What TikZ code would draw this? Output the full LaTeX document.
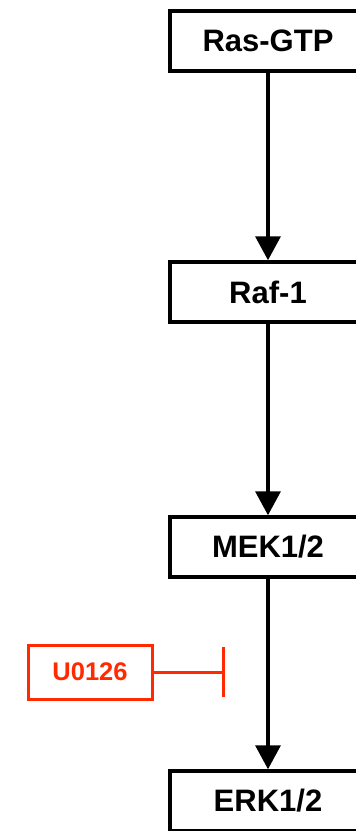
\documentclass[tikz,border=0pt]{standalone}
\usepackage{fontspec}
\setmainfont{Liberation Sans}
\usetikzlibrary{arrows.meta}
\definecolor{inhred}{HTML}{FF2A00}
\begin{document}
\begin{tikzpicture}[x=1pt,y=-1pt,
  protein/.style={draw=black, line width=3.5pt, minimum width=196pt, minimum height=60pt,
    inner sep=0pt, font=\fontsize{31}{36}\selectfont\bfseries},
  act/.style={line width=3.5pt, -{Triangle[length=24pt,width=25pt]}},
  drug/.style={draw=inhred, line width=3pt, minimum width=124pt, minimum height=54pt,
    inner sep=0pt, text=inhred, font=\fontsize{25.5}{30}\selectfont\bfseries},
  inhib/.style={draw=inhred, line width=3pt, -{Bar[width=50pt]}}]
\useasboundingbox (0,0) rectangle (356,831);
\clip (0,0) rectangle (356,831);
\fill[white] (0,0) rectangle (356,831);
\node[protein] (ras) at (268,41) {Ras-GTP};
\node[protein] (raf) at (268,292) {Raf-1};
\node[protein] (mek) at (268,547) {MEK1/2};
\node[protein] (erk) at (268,801) {ERK1/2};
\node[drug] (u) at (90,672) {U0126};
\coordinate (bar) at (225,672);
\draw[act] (ras) -- (raf);
\draw[act] (raf) -- (mek);
\draw[act] (mek) -- (erk);
\draw[inhib] (u) -- (bar);
\end{tikzpicture}
\end{document}
